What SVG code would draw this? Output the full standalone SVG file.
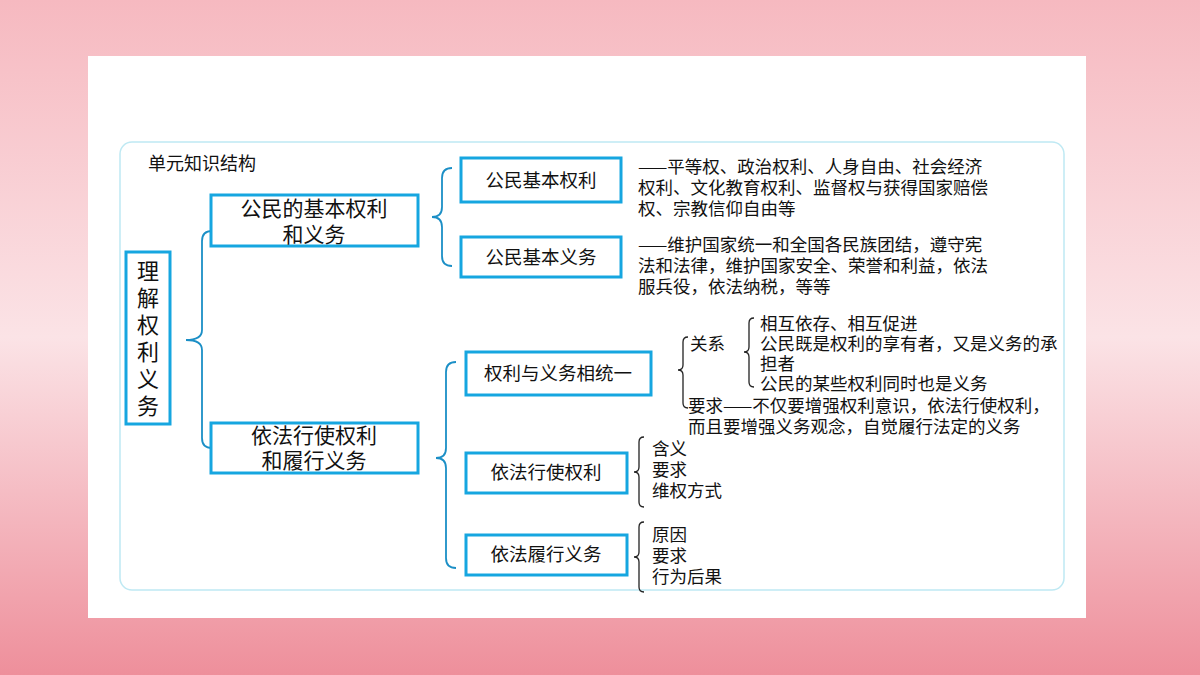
<svg xmlns="http://www.w3.org/2000/svg" width="1200" height="675" viewBox="0 0 1200 675">
<defs>
<linearGradient id="bg" x1="0" y1="0" x2="0" y2="1">
<stop offset="0" stop-color="#f6b9c0"/><stop offset="0.5" stop-color="#fbe3e6"/><stop offset="1" stop-color="#ee8f9b"/>
</linearGradient>
<style>
.box{fill:#fff;stroke:#16a6e0;stroke-width:3}
.bb{fill:none;stroke:#1b8fc6;stroke-width:1.8}
.kb{fill:none;stroke:#222;stroke-width:1.3}
text{font-family:"Noto Sans CJK SC","Liberation Sans",sans-serif;fill:#111}
.t16{font-size:17.5px}.t18{font-size:18.5px}.t20{font-size:21px}.t22{font-size:22px}
</style>
</defs>
<rect width="1200" height="675" fill="url(#bg)"/>
<rect x="88" y="56" width="998" height="562" fill="#fff"/>
<rect x="120" y="142" width="944" height="448" rx="12" fill="#fff" stroke="#bfe9f3" stroke-width="1.5"/>
<text x="148" y="170" font-size="18" fill="#333">单元知识结构</text>
<g id="connectors">
<path class="bb" d="M212,231 Q202,231 202,241 L202,330 Q202,340 186,340 Q202,340 202,350 L202,438 Q202,448 212,448"/>
<path class="bb" d="M452,168 Q442,168 442,178 L442,207 Q442,217 432,217 Q442,217 442,227 L442,256 Q442,266 452,266"/>
<path class="bb" d="M456,362 Q446,362 446,372 L446,448 Q446,458 436,458 Q446,458 446,468 L446,558 Q446,568 456,568"/>
<path class="kb" d="M688,337 Q683,337 683,342 L683,365 Q683,370 678,370 Q683,370 683,375 L683,403 Q683,408 688,408"/>
<path class="kb" d="M754,318 Q749,318 749,323 L749,347 Q749,352 744,352 Q749,352 749,357 L749,382 Q749,387 754,387"/>
<path class="kb" d="M644,437 Q639,437 639,442 L639,467 Q639,472 634,472 Q639,472 639,477 L639,502 Q639,507 644,507"/>
<path class="kb" d="M644,522 Q639,522 639,527 L639,552 Q639,557 634,557 Q639,557 639,562 L639,587 Q639,592 644,592"/>
</g>
<g id="root"><rect class="box" x="126" y="252" width="44" height="172"/>
<text class="t22" text-anchor="middle" x="148"><tspan x="148" y="279">理</tspan><tspan x="148" y="306">解</tspan><tspan x="148" y="333">权</tspan><tspan x="148" y="360">利</tspan><tspan x="148" y="387">义</tspan><tspan x="148" y="414">务</tspan></text></g>
<g id="n1"><rect class="box" x="211" y="195" width="207" height="51"/>
<text class="t20" text-anchor="middle"><tspan x="314" y="216">公民的基本权利</tspan><tspan x="314" y="242">和义务</tspan></text></g>
<g id="n2"><rect class="box" x="211" y="423" width="207" height="50"/>
<text class="t20" text-anchor="middle"><tspan x="314" y="443">依法行使权利</tspan><tspan x="314" y="468">和履行义务</tspan></text></g>
<g id="n11"><rect class="box" x="461" y="158" width="160" height="44"/><text class="t18" x="541" y="187" text-anchor="middle">公民基本权利</text></g>
<g id="n12"><rect class="box" x="461" y="237" width="160" height="40"/><text class="t18" x="541" y="264" text-anchor="middle">公民基本义务</text></g>
<g id="n21"><rect class="box" x="466" y="352" width="185" height="43"/><text class="t18" x="558" y="380" text-anchor="middle">权利与义务相统一</text></g>
<g id="n22"><rect class="box" x="466" y="453" width="161" height="40"/><text class="t18" x="546" y="479" text-anchor="middle">依法行使权利</text></g>
<g id="n23"><rect class="box" x="466" y="535" width="161" height="40"/><text class="t18" x="546" y="561" text-anchor="middle">依法履行义务</text></g>
<g id="texts">
<text class="t16"><tspan x="638" y="173">——平等权、政治权利、人身自由、社会经济</tspan><tspan x="638" y="194">权利、文化教育权利、监督权与获得国家赔偿</tspan><tspan x="638" y="215">权、宗教信仰自由等</tspan></text>
<text class="t16"><tspan x="638" y="251">——维护国家统一和全国各民族团结，遵守宪</tspan><tspan x="638" y="272">法和法律，维护国家安全、荣誉和利益，依法</tspan><tspan x="638" y="293">服兵役，依法纳税，等等</tspan></text>
<text class="t16" x="690" y="350">关系</text>
<text class="t16"><tspan x="760" y="330">相互依存、相互促进</tspan><tspan x="760" y="350">公民既是权利的享有者，又是义务的承</tspan><tspan x="760" y="370">担者</tspan><tspan x="760" y="390">公民的某些权利同时也是义务</tspan></text>
<text class="t16"><tspan x="688" y="412">要求——不仅要增强权利意识，依法行使权利，</tspan><tspan x="688" y="433">而且要增强义务观念，自觉履行法定的义务</tspan></text>
<text class="t16"><tspan x="652" y="455">含义</tspan><tspan x="652" y="476">要求</tspan><tspan x="652" y="497">维权方式</tspan></text>
<text class="t16"><tspan x="652" y="541">原因</tspan><tspan x="652" y="562">要求</tspan><tspan x="652" y="583">行为后果</tspan></text>
</g>
</svg>
